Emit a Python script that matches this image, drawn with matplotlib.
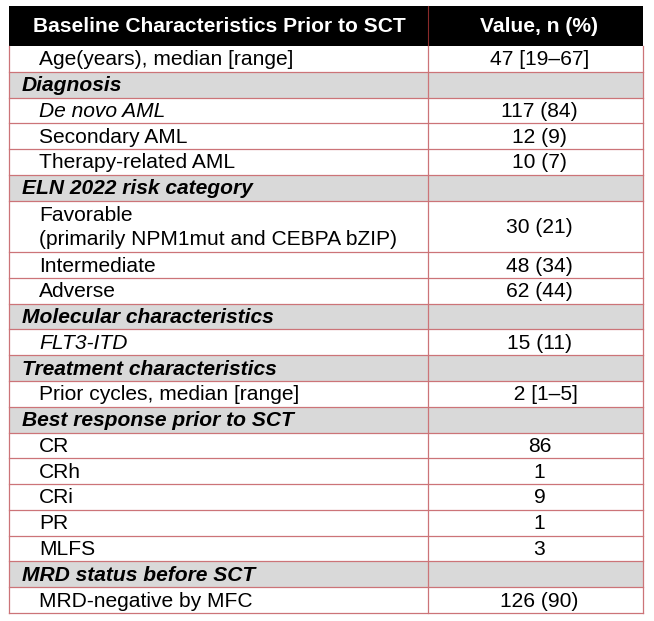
import matplotlib.pyplot as plt
from matplotlib.patches import Rectangle

plt.rcParams['font.family'] = ['Liberation Sans', 'DejaVu Sans']

header_labels = ["Baseline Characteristics Prior to SCT", "Value, n (%)"]

age_labels = ["Age(years), median [range]"]
age_values = ["47 [19–67]"]

section_titles = [
    "Diagnosis",
    "ELN 2022 risk category",
    "Molecular characteristics",
    "Treatment characteristics",
    "Best response prior to SCT",
    "MRD status before SCT",
]

diagnosis_labels = ["De novo AML", "Secondary AML", "Therapy-related AML"]
diagnosis_values = ["117 (84)", "12 (9)", "10 (7)"]

eln_labels = ["Favorable\n(primarily NPM1mut and CEBPA bZIP)", "Intermediate", "Adverse"]
eln_values = ["30 (21)", "48 (34)", "62 (44)"]

molecular_labels = ["FLT3-ITD"]
molecular_values = ["15 (11)"]

treatment_labels = ["Prior cycles, median [range]"]
treatment_values = ["  2 [1–5]"]

response_labels = ["CR", "CRh", "CRi", "PR", "MLFS"]
response_values = ["86", "1", "9", "1", "3"]

mrd_labels = ["MRD-negative by MFC"]
mrd_values = ["126 (90)"]

italic_items = {"De novo AML", "FLT3-ITD"}

# build the row list: (kind, label, value)
rows = [("item", l, v) for l, v in zip(age_labels, age_values)]
groups = [
    (diagnosis_labels, diagnosis_values),
    (eln_labels, eln_values),
    (molecular_labels, molecular_values),
    (treatment_labels, treatment_values),
    (response_labels, response_values),
    (mrd_labels, mrd_values),
]
for title, (labels, values) in zip(section_titles, groups):
    rows.append(("section", title, ""))
    rows += [("item", l, v) for l, v in zip(labels, values)]

# layout in pixels
W, H = 654, 621
x0, xmid, x1 = 9, 428, 643
y_top, head_h = 6, 40
unit = 25.77
fs = 15.1
line_c = "#cc7478"

fig = plt.figure(figsize=(W / 100, H / 100), dpi=100)
ax = fig.add_axes([0, 0, 1, 1])
ax.set_xlim(0, W)
ax.set_ylim(H, 0)
ax.axis("off")

# header
ax.add_patch(Rectangle((x0, y_top), x1 - x0, head_h, facecolor="black", edgecolor="none"))
ax.text((x0 + xmid) / 2 + 1, y_top + head_h / 2 + 1, header_labels[0], color="white",
        fontsize=fs, fontweight="bold", ha="center", va="center")
ax.text((xmid + x1) / 2 + 4, y_top + head_h / 2 + 1, header_labels[1], color="white",
        fontsize=fs, fontweight="bold", ha="center", va="center")
ax.plot([xmid, xmid], [y_top, y_top + head_h], color="#8a2a2a", lw=0.8)

y = y_top + head_h
for kind, label, value in rows:
    h = unit * (label.count("\n") + 1)
    if kind == "section":
        ax.add_patch(Rectangle((x0, y), x1 - x0, h, facecolor="#d9d9d9", edgecolor="none"))
        ax.text(x0 + 13, y + h / 2 + 1, label, fontsize=fs, fontweight="bold",
                fontstyle="italic", ha="left", va="center")
    else:
        style = "italic" if label in italic_items else "normal"
        ax.text(x0 + 30, y + h / 2 + 1, label, fontsize=fs, fontstyle=style,
                ha="left", va="center", linespacing=1.3)
        ax.text((xmid + x1) / 2 + 4, y + h / 2 + 1, value, fontsize=fs,
                ha="center", va="center")
    y += h
    ax.plot([x0, x1], [y, y], color=line_c, lw=0.9)

y_bot = y
for xv in (x0, xmid, x1):
    ax.plot([xv, xv], [y_top + head_h, y_bot], color=line_c, lw=0.9)

fig.savefig("out.png", dpi=100, facecolor="white")
